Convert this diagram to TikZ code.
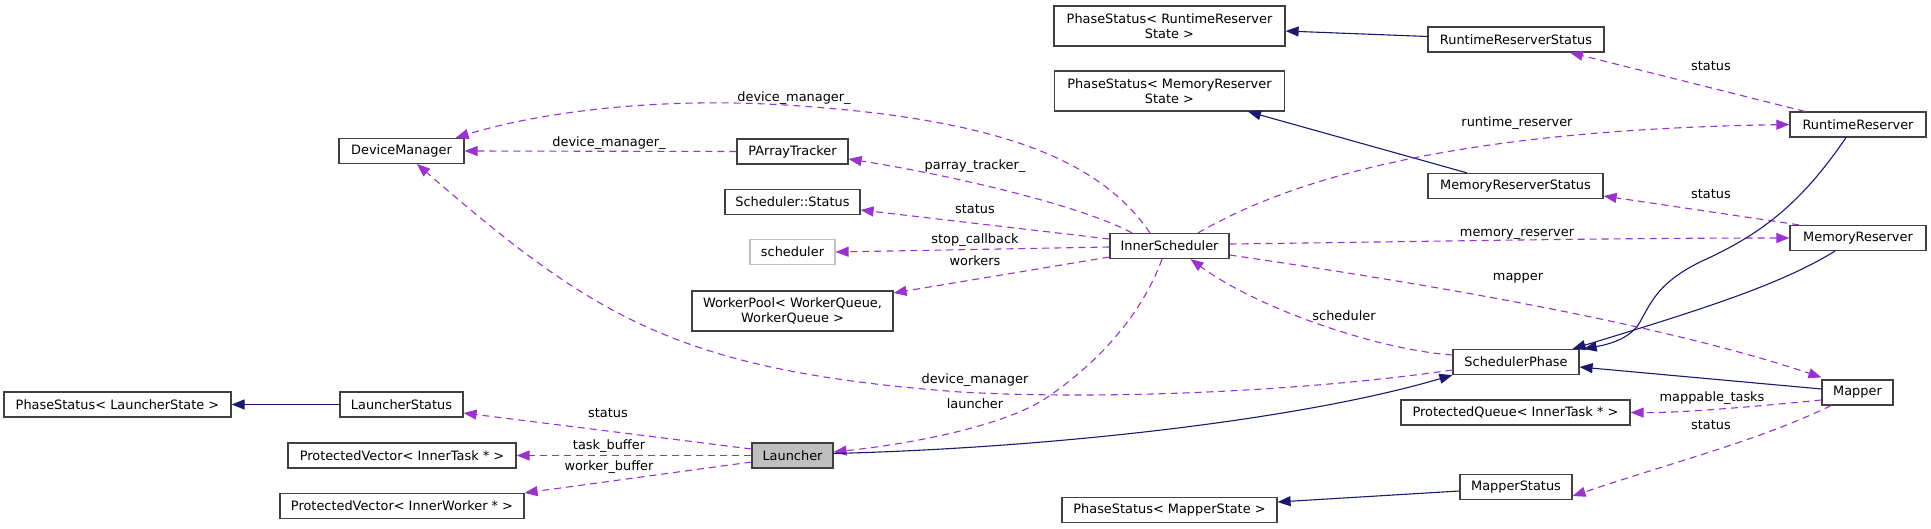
\documentclass[tikz,border=0pt]{standalone}
\usepackage{fontspec}
\setmainfont{DejaVu Sans}
\usetikzlibrary{arrows.meta,calc}
\definecolor{dox}{HTML}{404040}
\definecolor{purp}{HTML}{9A32CD}
\definecolor{mblue}{HTML}{191970}
\definecolor{lgray}{HTML}{BFBFBF}
\begin{document}
\begin{tikzpicture}[x=1pt,y=-1pt,
 box/.style={draw=dox,line width=1.2pt,fill=white,inner sep=0pt,minimum height=25pt,align=center,font=\fontsize{12.9}{15}\selectfont},
 box2/.style={box,minimum height=40pt},
 lbl/.style={inner sep=0pt,font=\fontsize{12.9}{15}\selectfont,text height=9.5pt,text depth=2.5pt},
 mem/.style={draw=purp,line width=1.1pt,dash pattern=on 7pt off 5pt,-{Triangle[length=13pt,width=10pt]}},
 inh/.style={draw=mblue,line width=1.1pt,-{Triangle[length=13pt,width=10pt]}},
]
\useasboundingbox (0,0) rectangle (1931,529);
% nodes
\node[box,minimum width=125pt] (dm) at (401.5,151) {DeviceManager};
\node[box2,minimum width=231pt] (psrr) at (1169.5,26) {PhaseStatus< RuntimeReserver\\State >};
\node[box2,minimum width=230pt] (psmr) at (1169.5,91) {PhaseStatus< MemoryReserver\\State >};
\node[box,minimum width=176pt] (rrs) at (1516,39.5) {RuntimeReserverStatus};
\node[box,minimum width=136pt] (rr) at (1858,124.5) {RuntimeReserver};
\node[box,minimum width=175pt] (mrs) at (1515.5,186) {MemoryReserverStatus};
\node[box,minimum width=136pt] (mr) at (1858,238) {MemoryReserver};
\node[box,minimum width=111pt] (pat) at (792.5,151.5) {PArrayTracker};
\node[box,minimum width=135pt] (ss) at (792.5,202) {Scheduler::Status};
\node[box,draw=lgray,minimum width=85pt] (sch) at (792.5,252) {scheduler};
\node[box,minimum width=119pt] (is) at (1169.5,246) {InnerScheduler};
\node[box2,minimum width=201pt] (wp) at (792.5,311) {WorkerPool< WorkerQueue,\\WorkerQueue >};
\node[box,minimum width=126pt] (sp) at (1516,362) {SchedulerPhase};
\node[box,minimum width=71pt] (map) at (1857.5,392.5) {Mapper};
\node[box,minimum width=229pt] (pq) at (1515.5,412.5) {ProtectedQueue< InnerTask * >};
\node[box,minimum width=112pt] (ms) at (1516,487) {MapperStatus};
\node[box,minimum width=215pt] (psm) at (1169.5,510) {PhaseStatus< MapperState >};
\node[box,fill=lgray,minimum width=81pt] (la) at (792.5,455.5) {Launcher};
\node[box,minimum width=123pt] (ls) at (401.5,404.5) {LauncherStatus};
\node[box,minimum width=227pt] (psl) at (117.5,404.5) {PhaseStatus< LauncherState >};
\node[box,minimum width=228pt] (pvt) at (402,455.5) {ProtectedVector< InnerTask * >};
\node[box,minimum width=244pt] (pvw) at (402,506) {ProtectedVector< InnerWorker * >};
% edges
\draw[inh] ([yshift=3pt]rrs.west) -- ([yshift=-5pt]psrr.east);
\draw[inh] ([xshift=-48.5pt]mrs.north) -- ([xshift=78.5pt]psmr.south);
\draw[mem] ([xshift=-53pt]rr.north) -- ([xshift=54pt]rrs.south);
\draw[mem] ([xshift=28.5pt]is.north) .. controls (1290,180) and (1450,130) .. (rr.west);
\draw[mem] ([xshift=-59pt]mr.north) -- ([yshift=-10pt]mrs.east);
\draw[mem] ([yshift=2pt]is.east) .. controls (1400,242) and (1600,238) .. (mr.west);
\draw[inh] ([xshift=-12pt]rr.south) .. controls (1800,205) and (1760,235) .. (1700,262) .. controls (1660,282) and (1652,300) .. (1640,322) .. controls (1630,340) and (1605,345) .. ([xshift=4pt]sp.north east);
\draw[inh] ([xshift=-23pt]mr.south) .. controls (1780,285) and (1700,310) .. ([xshift=-7pt]sp.north east);
\draw[inh] ([yshift=3.5pt]map.west) -- ([yshift=-5pt]sp.east);
\draw[mem] ([yshift=-9pt]is.east) .. controls (1400,280) and (1650,320) .. ([yshift=2pt]map.north west);
\draw[mem] ([yshift=7pt]sp.west) .. controls (1380,350) and (1260,310) .. ([xshift=21pt]is.south);
\draw[mem] ([yshift=-8pt]sp.west) .. controls (1300,392) and (1100,400) .. (960,392) .. controls (679,371) and (595,318) .. ([xshift=15.5pt]dm.south);
\draw[mem] ([xshift=-19.5pt]is.north) .. controls (1100,160) and (1000,120) .. (800,106) .. controls (650,95) and (530,115) .. ([xshift=-9pt]dm.north east);
\draw[mem] (pat.west) -- (dm.east);
\draw[mem] ([xshift=-37.5pt]is.north) .. controls (1080,205) and (950,175) .. ([yshift=-7.5pt]pat.east);
\draw[mem] ([yshift=7pt]is.west) -- ([yshift=-8pt]ss.east);
\draw[mem] ([yshift=-1pt]is.west) -- (sch.east);
\draw[mem] ([yshift=-11pt]is.west) -- ([yshift=18pt]wp.east);
\draw[mem] ([xshift=-7.5pt]is.south) .. controls (1140,320) and (1090,370) .. (1040,402) .. controls (990,430) and (900,445) .. ([yshift=3.5pt]la.east);
\draw[inh] ([yshift=2pt]la.east) .. controls (1050,448) and (1300,420) .. (sp.south west);
\draw[mem] ([yshift=6.5pt]la.west) -- ([yshift=-8.5pt]ls.east);
\draw[mem] (la.west) -- (pvt.east);
\draw[mem] ([yshift=-6.5pt]la.west) -- (pvw.north east);
\draw[inh] (ls.west) -- (psl.east);
\draw[mem] ([yshift=-7.5pt]map.west) .. controls (1750,407) and (1680,413) .. (pq.east);
\draw[mem] ([xshift=-26.5pt]map.south) .. controls (1760,440) and (1680,460) .. ([yshift=-9pt]ms.east);
\draw[inh] ([yshift=-4pt]ms.west) -- ([yshift=8pt]psm.east);
% labels
\node[lbl] (l1) at (794,98) {device\_manager\_};
\node[lbl] (l2) at (609,143) {device\_manager\_};
\node[lbl] (l3) at (975,166) {parray\_tracker\_};
\node[lbl] (l4) at (975,210) {status};
\node[lbl] (l5) at (975,240) {stop\_callback};
\node[lbl] (l6) at (975,262) {workers};
\node[lbl] (l7) at (1711,67) {status};
\node[lbl] (l8) at (1517,123) {runtime\_reserver};
\node[lbl] (l9) at (1711,195) {status};
\node[lbl] (l10) at (1517,233) {memory\_reserver};
\node[lbl] (l11) at (1518,277) {mapper};
\node[lbl] (l12) at (1344,317) {scheduler};
\node[lbl] (l13) at (975,380) {device\_manager};
\node[lbl] (l14) at (975,405) {launcher};
\node[lbl] (l15) at (608,414) {status};
\node[lbl] (l16) at (609,446) {task\_buffer};
\node[lbl] (l17) at (609,467) {worker\_buffer};
\node[lbl] (l18) at (1712,398) {mappable\_tasks};
\node[lbl] (l19) at (1711,426) {status};
\end{tikzpicture}
\end{document}
